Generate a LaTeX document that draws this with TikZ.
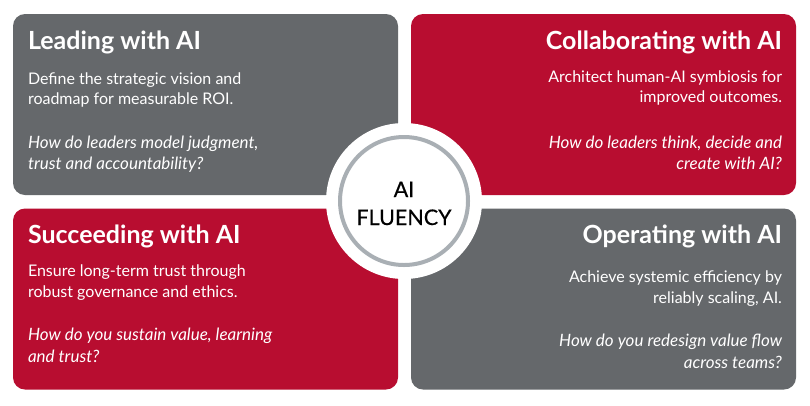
\documentclass[tikz,border=0pt]{standalone}
\usepackage{fontspec}
\setmainfont{Lato}
\newfontfamily\hubfont[FakeBold=0.5]{Lato}
\usetikzlibrary{positioning}
\definecolor{slategrey}{HTML}{65686B}
\definecolor{brandred}{HTML}{B80D30}
\definecolor{ringgrey}{HTML}{A9AFB4}

\begin{document}
\begin{tikzpicture}[x=1pt, y=-1pt,
  quad/.style={rounded corners=12pt, minimum width=385pt, minimum height=181pt, inner sep=0pt},
  title/.style={text=white, font=\fontsize{25}{28}\selectfont\bfseries, inner sep=0pt},
  desc/.style={text=white, font=\fontsize{16}{20.5}\selectfont, inner sep=0pt},
  ques/.style={desc, font=\fontsize{17}{21.5}\selectfont\itshape}
]
  \useasboundingbox[fill=white] (0,0) rectangle (810,405);

  % quadrants
  \node[quad, fill=slategrey] (lead) at (205.5,104.5) {};
  \node[quad, fill=brandred] (collab) at (603.5,104.5) {};
  \node[quad, fill=brandred] (succeed) at (205.5,299) {};
  \node[quad, fill=slategrey] (operate) at (603.5,299) {};

  % left column texts (base = last line)
  \node[title, anchor=base west] (leadT) at ([shift={(15,36)}]lead.north west) {Leading with AI};
  \node[desc, anchor=base west, align=left] (leadD) at ([shift={(15,91)}]lead.north west) {Define the strategic vision and\\roadmap for measurable ROI.};
  \node[ques, anchor=base west, align=left] (leadQ) at ([shift={(15,156)}]lead.north west) {How do leaders model judgment,\\trust and accountability?};

  \node[title, anchor=base west] (succeedT) at ([shift={(15,35)}]succeed.north west) {Succeeding with AI};
  \node[desc, anchor=base west, align=left] (succeedD) at ([shift={(15,89)}]succeed.north west) {Ensure long-term trust through\\robust governance and ethics.};
  \node[ques, anchor=base west, align=left] (succeedQ) at ([shift={(15,154)}]succeed.north west) {How do you sustain value, learning\\and trust?};

  % right column texts
  \node[title, anchor=base east] (collabT) at ([shift={(-14,36)}]collab.north east) {Collaborating with AI};
  \node[desc, anchor=base east, align=right] (collabD) at ([shift={(-14,89)}]collab.north east) {Architect human-AI symbiosis for\\improved outcomes.};
  \node[ques, anchor=base east, align=right] (collabQ) at ([shift={(-14,156)}]collab.north east) {How do leaders think, decide and\\create with AI?};

  \node[title, anchor=base east] (operateT) at ([shift={(-14,35)}]operate.north east) {Operating with AI};
  \node[desc, anchor=base east, align=right] (operateD) at ([shift={(-14,95)}]operate.north east) {Achieve systemic efficiency by\\reliably scaling, AI.};
  \node[ques, anchor=base east, align=right] (operateQ) at ([shift={(-14,160)}]operate.north east) {How do you redesign value flow\\across teams?};

  % centre badge
  \node[circle, fill=white, minimum size=156pt, inner sep=0pt] (hub) at (404,201) {};
  \node[circle, draw=ringgrey, line width=4pt, minimum size=128pt, inner sep=0pt] (ring) at (hub) {};
  \node[align=center, anchor=base, inner sep=0pt, font=\hubfont\fontsize{21.5}{28}\selectfont, text=black] (fluency) at (404,225) {AI\\FLUENCY};
\end{tikzpicture}
\end{document}
